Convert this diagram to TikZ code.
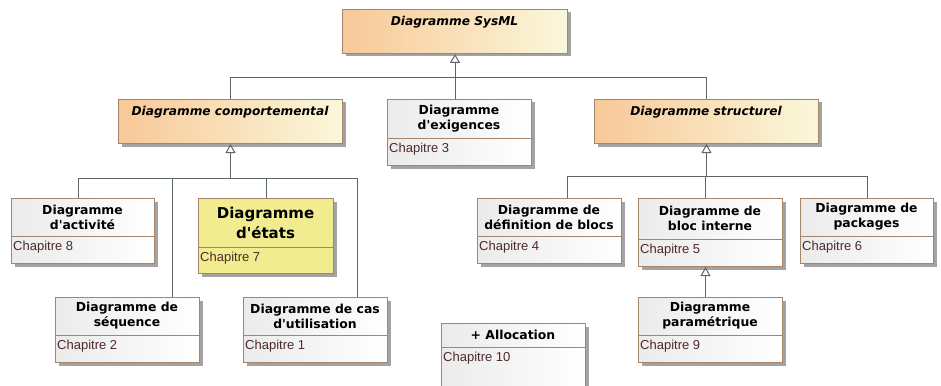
\documentclass[tikz,border=0pt]{standalone}
\usepackage{fontspec}
\setmainfont{DejaVu Sans}
\newfontfamily\chapfont{Liberation Sans}
\usepackage{tikz}
\usetikzlibrary{
    arrows.meta,
    shadows
}
\definecolor{smBorder}{HTML}{A5866A}
\definecolor{smLine}{HTML}{5C6669}
\definecolor{smOrangeL}{HTML}{F8C898}
\definecolor{smOrangeR}{HTML}{FAF8DA}
\definecolor{smYellow}{HTML}{F1EC8F}
\definecolor{smGrayL}{HTML}{EBEBEB}
\definecolor{smChap}{HTML}{4E2A2A}
\tikzset{
    smBox/.style={
        draw=smBorder,
        line width=1pt,
        inner sep=0pt,
        anchor=north west,
        drop shadow={shadow xshift=3pt, shadow yshift=-3pt, fill=black!40, opacity=.9}
    },
    smPlain/.style={smBox, left color=smGrayL, right color=white},
    smAbsBox/.style={smBox, left color=smOrangeL, right color=smOrangeR},
    smState/.style={smBox, fill=smYellow},
    smSep/.style={draw=smBorder, line width=1pt},
    smTitle/.style={font=\fontsize{12.4}{15}\selectfont\bfseries, align=center, inner sep=0pt},
    smAbsTitle/.style={font=\fontsize{12.2}{15}\selectfont\bfseries\itshape, inner sep=0pt},
    smChapText/.style={font=\chapfont\fontsize{13}{15}\selectfont, text=smChap, inner sep=0pt, anchor=west},
    smLink/.style={draw=smLine, line width=1pt},
    smGen/.style={smLink, -{Triangle[open, length=9pt, width=10pt]}}
}
% class with title and chapter compartments
% [style]{name}{x}{y}{width}{height}{title height}{title}{chapter}
\newcommand{\smClass}[9][smPlain]{%
    \node[#1, minimum width=#5pt, minimum height=#6pt] (#2) at (#3,#4) {};
    \draw[smSep] (#3,{#4+#7}) -- ++(#5,0);
    \node[smTitle] (#2-title) at ({#3+#5/2},{#4+#7/2}) {#8};
    \node[smChapText] (#2-chap) at ({#3+2},{#4+#7+11}) {#9};
}
% abstract class: {name}{x}{y}{width}{height}{title}
\newcommand{\absClass}[6]{%
    \node[smAbsBox, minimum width=#4pt, minimum height=#5pt] (#1) at (#2,#3) {};
    \node[smAbsTitle] (#1-title) at ({#2+#4/2},{#3+13}) {#6};
}
\newcommand{\q}{\textquotesingle}

\begin{document}
\begin{tikzpicture}[x=1pt,y=-1pt]
    \useasboundingbox (0,0) rectangle (941,385);
    \clip (0,0) rectangle (941,385);

    \absClass{sysml}{342}{9}{225}{44}{Diagramme SysML}
    \absClass{comport}{118}{99}{224}{44}{Diagramme comportemental}
    \absClass{struct}{594}{99}{224}{44}{Diagramme structurel}
    \smClass{exig}{387}{99}{144}{66}{39}{Diagramme\\d\q exigences}{Chapitre 3}

    \smClass{activ}{11}{198}{143}{65}{38}{Diagramme\\d\q activité}{Chapitre 8}
    \begin{scope}[smTitle/.style={font=\fontsize{15}{20}\selectfont\bfseries, align=center, inner sep=0pt}]
        \smClass[smState]{etats}{198}{198}{135}{75}{49}{Diagramme\\d\q états}{Chapitre 7}
    \end{scope}
    \smClass{seq}{55}{297}{144}{65}{38}{Diagramme de\\séquence}{Chapitre 2}
    \smClass{cas}{243}{297}{144}{65}{38}{Diagramme de cas\\d\q utilisation}{Chapitre 1}

    \smClass{def}{477}{198}{144}{65}{38}{Diagramme de\\définition de blocs}{Chapitre 4}
    \smClass{bloc}{638}{198}{144}{68}{41}{Diagramme de\\bloc interne}{Chapitre 5}
    \smClass{pack}{800}{198}{133}{65}{38}{Diagramme de\\packages}{Chapitre 6}
    \smClass{param}{638}{297}{144}{65}{38}{Diagramme\\paramétrique}{Chapitre 9}
    \smClass{alloc}{441}{323}{144}{80}{24}{+ Allocation}{Chapitre 10}

    % generalisations
    \coordinate (jTop) at ([yshift=-24pt]sysml.south);
    \draw[smGen] (jTop) -- (sysml.south);
    \draw[smLink] (comport.north) |- (jTop);
    \draw[smLink] (struct.north) |- (jTop);
    \draw[smLink] (exig.north -| jTop) -- (jTop);

    \coordinate (jBeh) at ([yshift=-34pt]comport.south);
    \draw[smGen] (jBeh) -- (comport.south);
    \draw[smLink] ([xshift=-4.5pt]activ.north) |- (jBeh);
    \draw[smLink] ([xshift=45pt]seq.north) |- (jBeh);
    \draw[smLink] (etats.north) |- (jBeh);
    \draw[smLink] ([xshift=42pt]cas.north) |- (jBeh);

    \coordinate (jStr) at ([yshift=-32pt]struct.south);
    \draw[smGen] (jStr) -- (struct.south);
    \draw[smLink] ([xshift=18pt]def.north) |- (jStr);
    \draw[smLink] ([xshift=-5pt]bloc.north) |- (jStr);
    \draw[smLink] (pack.north) |- (jStr);

    \draw[smGen] ([xshift=-5pt]param.north) -- ([xshift=-5pt]bloc.south);
\end{tikzpicture}
\end{document}
